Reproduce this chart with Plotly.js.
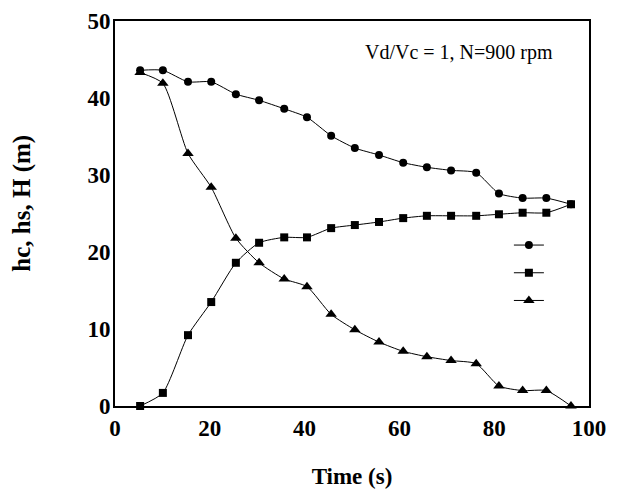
<!DOCTYPE html>
<html>
<head>
<meta charset="utf-8">
<script src="https://cdn.plot.ly/plotly-3.0.1.min.js"></script>
<style>html,body{margin:0;padding:0;background:#fff}#chart{width:628px;height:495px}</style>
</head>
<body>
<div id="chart"></div>
<script>
const timeS = [5.3, 10.1, 15.4, 20.3, 25.5, 30.4, 35.7, 40.5, 45.6, 50.6, 55.7, 60.8, 65.8, 70.9, 76.2, 81, 86, 91, 96.2];
const hc = [43.6, 43.6, 42.1, 42.1, 40.5, 39.7, 38.6, 37.5, 35.1, 33.5, 32.6, 31.6, 31.0, 30.6, 30.3, 27.6, 27.0, 27.0, 26.2];
const hs = [0, 1.7, 9.2, 13.5, 18.6, 21.2, 21.9, 21.9, 23.1, 23.5, 23.9, 24.4, 24.7, 24.7, 24.7, 24.9, 25.1, 25.1, 26.2];
const H  = [43.3, 41.9, 32.8, 28.4, 21.8, 18.6, 16.5, 15.5, 11.9, 9.9, 8.3, 7.1, 6.4, 5.9, 5.5, 2.6, 2.0, 2.0, 0];
const xTicks = [0, 20, 40, 60, 80, 100];
const yTicks = [0, 10, 20, 30, 40, 50];

const serif = '"Liberation Serif", "Times New Roman", serif';
const base = {mode: 'lines+markers', line: {color: '#000', width: 1, shape: 'spline', smoothing: 0.6}, cliponaxis: false};
const traces = [
  Object.assign({}, base, {x: timeS, y: hc, name: ' ', marker: {symbol: 'circle', size: 8, color: '#000'}}),
  Object.assign({}, base, {x: timeS, y: hs, name: ' ', marker: {symbol: 'square', size: 8, color: '#000'}}),
  Object.assign({}, base, {x: timeS, y: H, name: ' ', marker: {symbol: 'triangle-up', size: 10, color: '#000'}})
];
const axisCommon = {
  showgrid: false, zeroline: false, showline: true, mirror: true,
  linecolor: '#000', linewidth: 2, ticks: '',
  tickfont: {family: serif, size: 23, color: '#000', weight: 'bold'}
};
const layout = {
  width: 628, height: 495,
  margin: {l: 115, r: 39, t: 21, b: 89},
  paper_bgcolor: '#fff', plot_bgcolor: '#fff',
  font: {family: serif, color: '#000'},
  xaxis: Object.assign({}, axisCommon, {range: [0, 100], tickvals: xTicks, ticktext: xTicks.map(String), ticklabelstandoff: 0,
    title: {text: '<b>Time (s)</b>', font: {family: serif, size: 23, color: '#000'}, standoff: 28}}),
  yaxis: Object.assign({}, axisCommon, {range: [0, 50], tickvals: yTicks, ticktext: yTicks.map(String), ticklabelstandoff: -2}),
  showlegend: true,
  legend: {x: 0.831, y: 0.467, xanchor: 'left', yanchor: 'top', bgcolor: 'rgba(0,0,0,0)', font: {size: 19}, tracegroupgap: 0, itemwidth: 30},
  annotations: [
    {text: 'Vd/Vc = 1, N=900 rpm', xref: 'paper', yref: 'paper', x: 0.726, y: 0.917, xanchor: 'center', yanchor: 'middle',
     showarrow: false, font: {family: serif, size: 20, color: '#000'}},
    {text: '<b>hc, hs, H (m)</b>', xref: 'paper', yref: 'paper', x: -0.195, y: 0.527, xanchor: 'center', yanchor: 'middle',
     textangle: -90, showarrow: false, font: {family: serif, size: 25, color: '#000'}}
  ]
};
Plotly.newPlot('chart', traces, layout, {displayModeBar: false, staticPlot: true});
</script>
</body>
</html>
